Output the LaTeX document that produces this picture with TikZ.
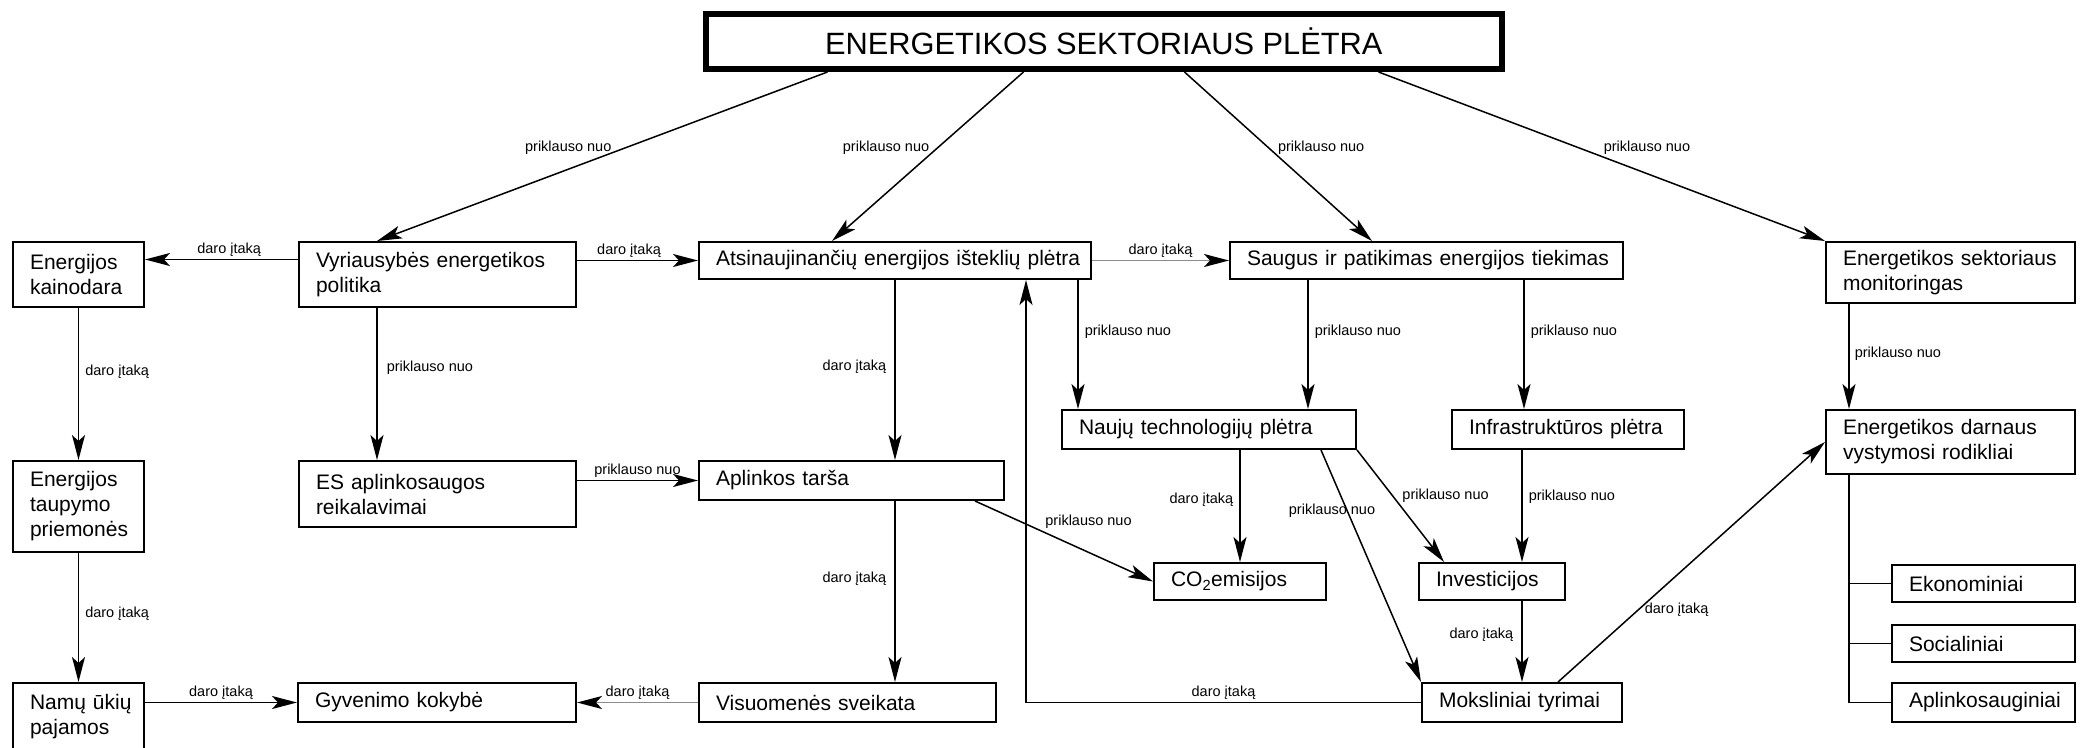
\documentclass[tikz,border=0pt]{standalone}
\usepackage{fontspec}
\setmainfont{Liberation Sans}
\usetikzlibrary{arrows.meta,positioning,calc}
\hyphenpenalty=10000

\tikzset{
	box/.style={draw, line width=2pt, anchor=north west, align=left, inner xsep=17pt, inner ysep=0pt, font=\fontsize{21}{25}\selectfont},
	conn/.style={line width=1.5pt},
	arr/.style={conn, -{Stealth[length=25pt,width=13pt,inset=6pt,color=black]}},
	lbl/.style={font=\fontsize{14.5}{16}\selectfont, inner sep=2pt},
}

\begin{document}
\begin{tikzpicture}[x=1pt,y=-1pt]
	\useasboundingbox (0,0) rectangle (2085,747);
	% title
	\node[draw, line width=6.5pt, anchor=north west, minimum width=796pt, minimum height=55pt, inner sep=0pt, font=\fontsize{30.8}{36}\selectfont] (title) at (702.5,10.5) {ENERGETIKOS SEKTORIAUS PLĖTRA};
	% boxes, row 1
	\node[box, text width=97pt, minimum height=65pt] (kain) at (12,241) {Energijos\\kainodara};
	\node[box, text width=243pt, minimum height=65pt] (vyr) at (298,241) {Vyriausybės energetikos\\politika};
	\node[box, text width=358pt, minimum height=37pt] (atsi) at (698,241) {Atsinaujinančių~energijos~išteklių~plėtra};
	\node[box, text width=359pt, minimum height=37pt] (saug) at (1229,241) {Saugus~ir~patikimas~energijos~tiekimas};
	\node[box, text width=215pt, minimum height=61pt] (mon) at (1825,241) {Energetikos~sektoriaus\\monitoringas};
	% row 2
	\node[box, text width=97pt, minimum height=91pt] (taup) at (12,460) {Energijos\\taupymo\\priemonės};
	\node[box, text width=243pt, minimum height=66pt] (es) at (298,460) {ES aplinkosaugos\\reikalavimai};
	\node[box, text width=271pt, minimum height=39pt] (tarsa) at (698,460) {Aplinkos tarša};
	\node[box, text width=260pt, minimum height=39pt] (naujt) at (1061,409) {Naujų technologijų plėtra};
	\node[box, text width=198pt, minimum height=39pt] (infra) at (1451,409) {Infrastruktūros plėtra};
	\node[box, text width=215pt, minimum height=64pt] (darn) at (1825,409) {Energetikos darnaus\\vystymosi rodikliai};
	\node[box, text width=138pt, minimum height=37pt] (co2) at (1153,562) {CO\textsubscript{2}emisijos};
	\node[box, text width=112pt, minimum height=37pt] (inv) at (1418,562) {Investicijos};
	\node[box, text width=149pt, minimum height=37pt] (ekon) at (1891,564) {Ekonominiai};
	\node[box, text width=149pt, minimum height=37pt] (soc) at (1891,624) {Socialiniai};
	% row 3
	\node[box, text width=97pt, minimum height=67pt] (namu) at (12,682) {Namų~ūkių\\pajamos};
	\node[box, text width=244pt, minimum height=39pt] (gyv) at (297,682) {Gyvenimo kokybė};
	\node[box, text width=263pt, minimum height=39pt] (visu) at (698,682) {Visuomenės sveikata};
	\node[box, text width=166pt, minimum height=39pt] (mok) at (1421,682) {Moksliniai tyrimai};
	\node[box, text width=149pt, minimum height=39pt] (aplk) at (1891,682) {Aplinkosauginiai};

	% from the title
	\draw[arr] ([xshift=125pt]title.south west) -- ([xshift=79pt]vyr.north west) node[lbl, pos=0.447, left=12pt] {priklauso nuo};
	\draw[arr] ([xshift=321pt]title.south west) -- ([xshift=134pt]atsi.north west) node[lbl, pos=0.447, left=6pt] {priklauso nuo};
	\draw[arr] ([xshift=482pt]title.south west) -- ([xshift=143pt]saug.north west) node[lbl, pos=0.447, right=7pt] {priklauso nuo};
	\draw[arr] ([xshift=676pt]title.south west) -- (mon.north west) node[lbl, pos=0.447, right=23pt] {priklauso nuo};

	% row 1 links
	\draw[arr] ([yshift=15pt]vyr.west) -- ([yshift=15pt]kain.east) node[lbl, pos=0.45, above] {daro įtaką};
	\draw[arr] (vyr.east |- atsi.west) -- (atsi.west) node[lbl, pos=0.43, above] {daro įtaką};
	\draw[arr, black!45] (atsi.east) -- (saug.west) node[lbl, black, midway, above] {daro įtaką};

	% down links
	\draw[arr] (kain.south) -- (taup.north) node[lbl, pos=0.42, right=4pt] {daro įtaką};
	\draw[arr] (taup.south) -- (namu.north) node[lbl, pos=0.47, right=4pt] {daro įtaką};
	\draw[arr] ([xshift=79pt]vyr.south west) -- ([xshift=79pt]es.north west) node[lbl, pos=0.39, right=7pt] {priklauso nuo};
	\draw[arr] (atsi.south) -- (atsi.south |- tarsa.north) node[lbl, pos=0.48, left=6pt] {daro įtaką};
	\draw[arr] ([xshift=-14pt]atsi.south east) -- ([xshift=-14pt]atsi.south east |- naujt.north) node[lbl, pos=0.4, right=4pt] {priklauso nuo};
	\draw[arr] ([xshift=79pt]saug.south west) -- ([xshift=79pt]saug.south west |- naujt.north) node[lbl, pos=0.4, right=4pt] {priklauso nuo};
	\draw[arr] ([xshift=-100pt]saug.south east) -- ([xshift=-100pt]saug.south east |- infra.north) node[lbl, pos=0.4, right=4pt] {priklauso nuo};
	\draw[arr] ([xshift=24pt]mon.south west) -- ([xshift=24pt]darn.north west) node[lbl, pos=0.47, right=3pt] {priklauso nuo};
	\draw[arr] (atsi.south |- tarsa.south) -- (atsi.south |- visu.north) node[lbl, pos=0.43, left=6pt] {daro įtaką};
	\draw[arr] (naujt.south -| co2.north) -- (co2.north) node[lbl, pos=0.44, left=4pt] {daro įtaką};
	\draw[arr] ([xshift=71pt]infra.south west) -- ([xshift=71pt]infra.south west |- inv.north) node[lbl, pos=0.42, right=4pt] {priklauso nuo};
	\draw[arr] ([xshift=104pt]inv.south west) -- ([xshift=104pt]inv.south west |- mok.north) node[lbl, pos=0.42, left=6pt] {daro įtaką};

	% slanted links
	\draw[arr] ([xshift=-30pt]tarsa.south east) -- (co2.west) node[lbl, pos=0.38, above right] {priklauso nuo};
	\draw[arr] ([xshift=-36pt]naujt.south east) -- (mok.north west) node[lbl, pos=0.26, xshift=-15pt] {priklauso nuo};
	\draw[arr] (naujt.south east) -- ([xshift=26pt]inv.north west) node[lbl, pos=0.41, right=7pt] {priklauso nuo};
	\draw[arr] ([xshift=-65pt]mok.north east) -- (darn.west) node[lbl, pos=0.3, right=4pt] {daro įtaką};
	\draw[arr] (mok.west) -| ([xshift=131pt]atsi.south) node[lbl, pos=0.25, above] {daro įtaką};

	% bottom row
	\draw[arr] (es.east |- tarsa.west) -- (tarsa.west) node[lbl, midway, above] {priklauso nuo};
	\draw[arr] (namu.east |- gyv.west) -- (gyv.west) node[lbl, midway, above] {daro įtaką};
	\draw[arr, black!45] (visu.west) -- (gyv.east) node[lbl, black, midway, above] {daro įtaką};

	% indicator tree
	\draw[conn] ([xshift=24pt]darn.south west) |- (ekon.west);
	\draw[conn] ([xshift=24pt]darn.south west) |- (soc.west);
	\draw[conn] ([xshift=24pt]darn.south west) |- (aplk.west);
\end{tikzpicture}
\end{document}
